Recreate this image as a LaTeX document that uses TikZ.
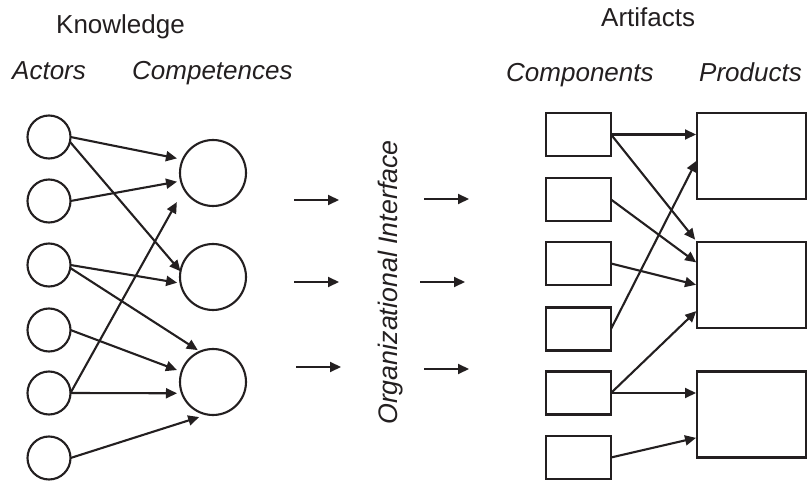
\documentclass[tikz,border=0pt]{standalone}
\usepackage{fontspec}
\setmainfont{Liberation Sans}
\usetikzlibrary{arrows.meta,calc}
\definecolor{ink}{RGB}{35,31,32}
\begin{document}
\begin{tikzpicture}[x=1pt,y=-1pt,
  actor/.style={circle,draw=ink,line width=2.1pt,minimum size=43pt,inner sep=0pt,outer sep=0pt},
  comp/.style={circle,draw=ink,line width=2.1pt,minimum size=66pt,inner sep=0pt,outer sep=0pt},
  part/.style={rectangle,draw=ink,line width=2.1pt,minimum width=65pt,minimum height=43pt,inner sep=0pt,outer sep=0pt},
  prod/.style={rectangle,draw=ink,line width=2.1pt,minimum width=109pt,minimum height=86pt,inner sep=0pt,outer sep=0pt},
  arr/.style={-{Triangle[length=11pt,width=10pt]},line width=2.1pt,draw=ink,fill=ink},
  head/.style={font=\fontsize{26}{30}\selectfont,text=ink,inner sep=0pt,anchor=base west},
  sub/.style={font=\fontsize{26}{30}\selectfont\itshape,text=ink,inner sep=0pt,anchor=base west}]
\useasboundingbox (0,0) rectangle (807,481);

% headings
\node[head] (knowledge) at (56,34) {Knowledge};
\node[head] (artifacts) at (601,27) {Artifacts};
\node[sub] (actors) at (12,80) {Actors};
\node[sub] (competences) at (132,80) {Competences};
\node[sub] (components) at (506,82) {Components};
\node[sub] (products) at (699,82) {Products};
\node[font=\fontsize{26.8}{30}\selectfont\itshape,text=ink,inner sep=0pt,anchor=base west,rotate=90] (interface) at (397,425) {Organizational Interface};

% actors
\node[actor] (a1) at (49,137) {};
\node[actor] (a2) at (49,201) {};
\node[actor] (a3) at (49,265) {};
\node[actor] (a4) at (49,330) {};
\node[actor] (a5) at (49,393) {};
\node[actor] (a6) at (49,458) {};

% competences
\node[comp] (c1) at (213,173) {};
\node[comp] (c2) at (213,277) {};
\node[comp] (c3) at (213,382) {};

% components
\node[part] (r1) at (578.5,134.5) {};
\node[part] (r2) at (578.5,199.5) {};
\node[part] (r3) at (578.5,263.5) {};
\node[part] (r4) at (578.5,329) {};
\node[part] (r5) at (578.5,393) {};
\node[part] (r6) at (578.5,457.5) {};

% products
\node[prod] (p1) at (751.5,156) {};
\node[prod] (p2) at (751.5,285) {};
\node[prod] (p3) at (751.5,414.5) {};

% actor -> competence
\draw[arr,shorten >=6pt] (a1.east) -- (c1.156);
\draw[arr] (a1.-13) -- (c2.170);
\draw[arr,shorten >=4pt] (a2.east) -- (c1.194);
\draw[arr,shorten >=3.5pt] (a3.east) -- (c2.191);
\draw[arr,shorten >=2.8pt] (a3.-8) -- (c3.113);
\draw[arr,shorten >=5pt] (a4.east) -- (c3.162);
\draw[arr,shorten >=15pt] (a5.east) -- (c1.209);
\draw[arr,shorten >=5pt] (a5.east) -- (c3.200);
\draw[arr,shorten >=8.5pt] (a6.east) -- (c3.260);

% interface arrows
\coordinate (m1s) at (294,200); \coordinate (m1e) at (339,200);
\coordinate (m2s) at (294,282); \coordinate (m2e) at (339,282);
\coordinate (m3s) at (296,367); \coordinate (m3e) at (341,367);
\coordinate (n1s) at (424,199); \coordinate (n1e) at (469,199);
\coordinate (n2s) at (420,282); \coordinate (n2e) at (465,282);
\coordinate (n3s) at (424,369); \coordinate (n3e) at (469,369);
\draw[arr] (m1s) -- (m1e);
\draw[arr] (m2s) -- (m2e);
\draw[arr] (m3s) -- (m3e);
\draw[arr] (n1s) -- (n1e);
\draw[arr] (n2s) -- (n2e);
\draw[arr] (n3s) -- (n3e);

% component -> product
\draw[arr,shorten >=1pt] (r1.east) -- (r1.east -| p1.west);
\draw[arr,shorten >=3pt] (r1.east) -- (p2.north west);
\draw[arr,shorten >=1pt] (r2.east) -- (p2.158);
\draw[arr,shorten >=1pt] (r3.east) -- (p2.west);
\draw[arr,shorten >=1pt] (r4.east) -- (p1.184);
\draw[arr,shorten >=1pt] (r5.east) -- (p2.205);
\draw[arr,shorten >=1pt] (r5.east) -- (r5.east -| p3.west);
\draw[arr,shorten >=1pt] (r6.east) -- (p3.203);
\end{tikzpicture}
\end{document}
